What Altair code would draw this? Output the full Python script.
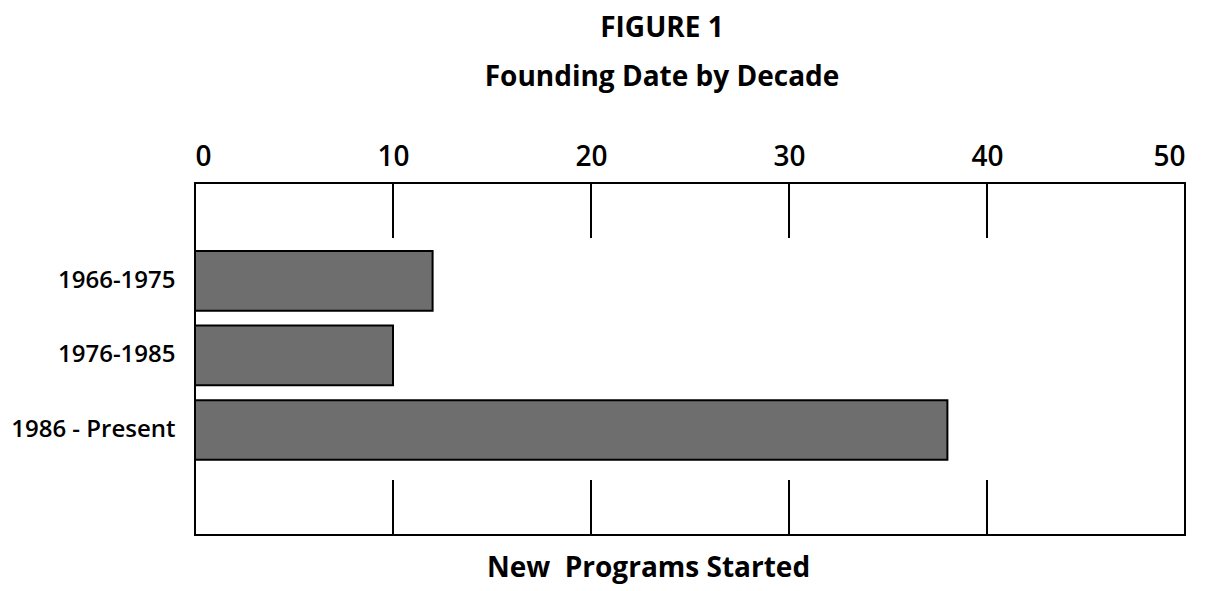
import altair as alt
import pandas as pd

# ---- data ----
categories = ["1966-1975", "1976-1985", "1986 - Present"]
programs = [12, 10, 38]
grid_values = [10, 20, 30, 40]
x_ticks = [0, 10, 20, 30, 40, 50]

bars_df = pd.DataFrame({"period": categories, "programs": programs})
grid_df = pd.DataFrame({"value": grid_values})

FONT = "Open Sans"
W, H = 990, 352

xscale = alt.Scale(domain=[0, 50], nice=False, zero=True)

bars = alt.Chart(bars_df).mark_bar(
    color="#6e6e6e", stroke="black", strokeWidth=2
).encode(
    x=alt.X(
        "programs:Q",
        scale=xscale,
        axis=alt.Axis(
            orient="top", values=x_ticks, title=None, ticks=False, tickSize=0,
            domain=False, grid=False, labelFontSize=28, labelFont=FONT,
            labelFontWeight=600, labelColor="black", labelPadding=12,
        ),
    ),
    y=alt.Y(
        "period:N",
        sort=categories,
        scale=alt.Scale(paddingInner=0.2, paddingOuter=0.96, align=0.475),
        axis=alt.Axis(
            title=None, ticks=False, tickSize=0, domain=False, grid=False,
            labelFontSize=24, labelFont=FONT, labelFontWeight=600,
            labelColor="black", labelPadding=20,
        ),
    ),
)

grid_top = alt.Chart(grid_df).mark_rule(color="black", strokeWidth=2).encode(
    x=alt.X(
        "value:Q",
        scale=xscale,
        axis=alt.Axis(
            orient="bottom", labels=False, ticks=False, tickSize=0, domain=False,
            grid=False, title="New\u00a0 Programs Started", titleFontSize=28,
            titleFont=FONT, titleFontWeight="bold", titleColor="black",
            titlePadding=19, titleX=453, titleAlign="center",
        ),
    ),
    y=alt.value(0),
    y2=alt.value(55),
)

grid_bottom = alt.Chart(grid_df).mark_rule(color="black", strokeWidth=2).encode(
    x=alt.X("value:Q", scale=xscale, axis=None),
    y=alt.value(297),
    y2=alt.value(H),
)

chart = alt.layer(bars, grid_top, grid_bottom).resolve_axis(
    x="independent"
).properties(
    width=W,
    height=H,
    autosize="none",
    padding={"left": 187, "top": 175, "right": 15, "bottom": 56},
    title=alt.Title(
        "FIGURE 1",
        subtitle="Founding Date by Decade",
        fontSize=28,
        subtitleFontSize=28,
        font=FONT,
        subtitleFont=FONT,
        fontWeight="bold",
        subtitleFontWeight="bold",
        color="black",
        subtitleColor="black",
        anchor="middle",
        dx=-28,
        offset=51,
        subtitlePadding=21,
    ),
).configure(background="white").configure_view(stroke="black", strokeWidth=2)

chart.save("out.html", embed_options={"renderer": "svg", "actions": False})
